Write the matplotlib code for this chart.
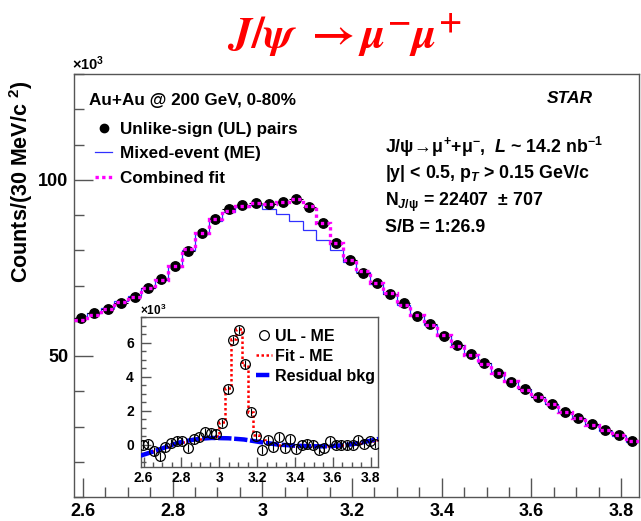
import numpy as np
import matplotlib
matplotlib.use("Agg")
import matplotlib.pyplot as plt
from matplotlib.ticker import MultipleLocator, FuncFormatter
from matplotlib.lines import Line2D

plt.rcParams['font.family'] = ['Liberation Sans', 'DejaVu Sans']
plt.rcParams['font.weight'] = 'bold'
plt.rcParams['mathtext.fontset'] = 'custom'
plt.rcParams['mathtext.rm'] = 'Liberation Sans:bold'
plt.rcParams['mathtext.bf'] = 'Liberation Sans:bold'
plt.rcParams['mathtext.sf'] = 'Liberation Sans:bold'
plt.rcParams['mathtext.it'] = 'Liberation Sans:italic:bold'

# binning (30 MeV bins), counts in units of 10^3
mass_lo = 2.58
bin_width = 0.03

# unlike-sign pairs
ul_counts = [60.9, 62.2, 63.3, 64.9, 66.8, 69.3, 71.8, 75.5, 79.9, 84.8,
             88.8, 91.6, 92.9, 93.5, 93.1, 93.6, 94.4, 92.4, 87.6, 82.0,
             77.2, 73.5, 70.8, 67.6, 65.0, 61.4, 59.0, 55.7, 53.0, 50.5,
             47.9, 45.1, 42.7, 40.7, 38.5, 36.3, 34.1, 32.4, 30.7, 28.9,
             27.5, 25.8]
# mixed-event background
me_counts = [60.9, 62.2, 63.7, 65.6, 67.0, 69.2, 71.6, 75.3, 80.1, 84.5,
             88.4, 90.9, 92.2, 92.9, 91.8, 90.4, 88.2, 85.7, 82.9, 80.1,
             76.7, 73.8, 70.5, 67.7, 64.5, 61.6, 58.7, 56.0, 53.0, 50.4,
             47.9, 45.4, 42.9, 40.5, 38.5, 36.3, 34.1, 32.4, 30.4, 28.8,
             27.3, 25.7]
# inset: UL - ME
ul_minus_me = [0.0, 0.04, -0.4, -0.7, -0.16, 0.1, 0.24, 0.2, -0.2, 0.3,
               0.43, 0.75, 0.69, 0.65, 1.28, 3.24, 6.16, 6.75, 4.72, 1.93,
               0.53, -0.33, 0.26, -0.14, 0.45, -0.2, 0.3, -0.26, 0.0, 0.06,
               0.0, -0.33, -0.2, 0.2, 0.0, 0.0, -0.04, 0.0, 0.26, 0.06,
               0.2, 0.06]
ul_minus_me_err = 0.25
# inset: Fit - ME
fit_minus_me = [-0.6, -0.48, -0.37, -0.26, -0.15, -0.04, 0.08, 0.16, 0.23, 0.3,
                0.34, 0.37, 0.39, 0.5, 1.3, 3.3, 6.2, 6.8, 4.7, 1.9,
                0.55, 0.25, 0.17, 0.1, 0.0, -0.02, -0.04, -0.06, -0.08, -0.09,
                -0.1, -0.1, -0.1, -0.1, -0.08, -0.05, -0.02, 0.03, 0.09, 0.15,
                0.22, 0.29]
# inset: residual background curve
bkg_mass = [2.585, 2.64, 2.69, 2.74, 2.78, 2.83, 2.87, 2.92, 2.96, 3.05, 3.13,
            3.22, 3.31, 3.40, 3.49, 3.58, 3.67, 3.72, 3.76, 3.80, 3.84]
bkg_vals = [-0.65, -0.45, -0.26, -0.06, 0.1, 0.22, 0.3, 0.36, 0.39, 0.37, 0.3,
            0.14, 0.0, -0.06, -0.1, -0.1, -0.02, 0.05, 0.14, 0.23, 0.33]

ul = np.array(ul_counts)
me = np.array(me_counts)
combined = me + np.array(fit_minus_me)
n = len(ul)
edges = mass_lo + bin_width * np.arange(n + 1)
centers = 0.5 * (edges[:-1] + edges[1:])

W, H = 641, 521
def fp(x, y):
    return x / W, 1 - y / H

frame_col = '#555555'
fig = plt.figure(figsize=(W / 100, H / 100), dpi=100)
ax = fig.add_axes([74 / W, 24 / H, 565 / W, 423 / H])

ax.stairs(me, edges, baseline=None, color='#3030ff', lw=0.9, zorder=2)
ax.errorbar(centers, ul, xerr=bin_width / 2, fmt='o', color='black', ms=6.8,
            elinewidth=0.8, zorder=3)
ax.stairs(combined, edges, baseline=None, color='magenta', lw=2.4,
          ls=(0, (1.0, 1.0)), zorder=4)

ax.set_xlim(2.58, 3.84)
ax.set_ylim(10, 130)
ax.xaxis.set_major_locator(MultipleLocator(0.2))
ax.xaxis.set_minor_locator(MultipleLocator(0.05))
ax.yaxis.set_major_locator(MultipleLocator(50))
ax.yaxis.set_minor_locator(MultipleLocator(10))
fmt = FuncFormatter(lambda v, p: '%g' % round(v, 3))
ax.xaxis.set_major_formatter(fmt)
ax.yaxis.set_major_formatter(fmt)
ax.tick_params(which='both', direction='in', top=False, right=False,
               color=frame_col, labelsize=13)
ax.tick_params(which='major', length=14, width=1)
ax.tick_params(which='minor', length=7, width=1)
ax.tick_params(axis='x', pad=4)
ax.tick_params(axis='y', pad=4)
for s in ax.spines.values():
    s.set_color(frame_col)
    s.set_linewidth(1)

fig.text(*fp(21, 182), r'Counts/(30 MeV/c $^{2}$)', rotation=90,
         ha='center', va='center', fontsize=15.5)
fig.text(*fp(72, 73), r'$\times$10$^{3}$', ha='left', va='bottom', fontsize=10.5)

fig.text(*fp(344, 35), r'$J/\psi\ \rightarrow \mu^{-}\mu^{+}$', color='red',
         ha='center', va='center', fontsize=32, math_fontfamily='stix',
         fontweight='normal')

# left legend
fig.text(*fp(89, 100), 'Au+Au @ 200 GeV, 0-80%', ha='left', va='center', fontsize=12.3)
handles = [Line2D([], [], color='black', marker='o', ms=6, ls='none'),
           Line2D([], [], color='#3030ff', lw=0.9),
           Line2D([], [], color='magenta', lw=2.4, ls=(0, (1.0, 1.0)))]
labels = ['Unlike-sign (UL) pairs', 'Mixed-event (ME)', 'Combined fit']
fig.legend(handles, labels, loc='upper left', bbox_to_anchor=fp(95, 122),
           frameon=False, fontsize=12.3, handlelength=1.0, handletextpad=0.45,
           labelspacing=0.55, borderpad=0, borderaxespad=0)

# right text block
fig.text(*fp(593, 99), 'STAR', ha='right', va='center', fontsize=12.5,
         fontstyle='italic')
info = [r'J/$\mathrm{\psi}\!\rightarrow\!\mathrm{\mu}^{+}$+$\mathrm{\mu}^{-}$,  $L$ ~ 14.2 nb$^{-1}$',
        r'|y| < 0.5, p$_{T}$ > 0.15 GeV/c',
        r'N$_{J/\mathrm{\psi}}$ = 22407  $\pm$ 707',
        'S/B = 1:26.9']
info_y = [147, 174, 202, 228]
for txt, yy in zip(info, info_y):
    fig.text(*fp(385, yy), txt, ha='left', va='center', fontsize=12.8)

# inset
axi = fig.add_axes([140.7 / W, (H - 466.7) / H, 237.6 / W, 149.7 / H])
axi.stairs(fit_minus_me, edges, baseline=None, color='red', lw=1.8,
           ls=(0, (1.0, 1.0)), zorder=2)
axi.plot(bkg_mass, bkg_vals, color='blue', lw=3.2, ls=(0, (3, 0.6)), zorder=3)
axi.errorbar(centers, ul_minus_me, yerr=ul_minus_me_err, fmt='o', mfc='none',
             mec='black', ecolor='black', ms=7, mew=0.9, elinewidth=0.8, zorder=4)
axi.set_xlim(2.585, 3.84)
axi.set_ylim(-1.3, 7.5)
axi.xaxis.set_major_locator(MultipleLocator(0.2))
axi.xaxis.set_minor_locator(MultipleLocator(0.05))
axi.yaxis.set_major_locator(MultipleLocator(2))
axi.yaxis.set_minor_locator(MultipleLocator(0.5))
axi.xaxis.set_major_formatter(fmt)
axi.yaxis.set_major_formatter(fmt)
axi.tick_params(which='both', direction='in', top=False, right=False,
                color=frame_col, labelsize=10)
axi.tick_params(which='major', length=7, width=1)
axi.tick_params(which='minor', length=3.5, width=1)
axi.tick_params(axis='x', pad=3)
axi.tick_params(axis='y', pad=5)
for s in axi.spines.values():
    s.set_color(frame_col)
    s.set_linewidth(1)
fig.text(*fp(140, 318), r'$\times$10$^{3}$', ha='left', va='bottom', fontsize=8.5)

ih = [Line2D([], [], color='black', marker='o', mfc='none', ms=7, mew=0.9, ls='none'),
      Line2D([], [], color='red', lw=1.8, ls=(0, (1.0, 1.0))),
      Line2D([], [], color='blue', lw=3.2, ls=(0, (3, 0.6)))]
il = ['UL - ME', 'Fit - ME', 'Residual bkg']
fig.legend(ih, il, loc='upper left', bbox_to_anchor=fp(256, 329),
           frameon=False, fontsize=11.5, handlelength=1.0, handletextpad=0.2,
           labelspacing=0.3, borderpad=0, borderaxespad=0)

fig.savefig('out.png', dpi=100)
